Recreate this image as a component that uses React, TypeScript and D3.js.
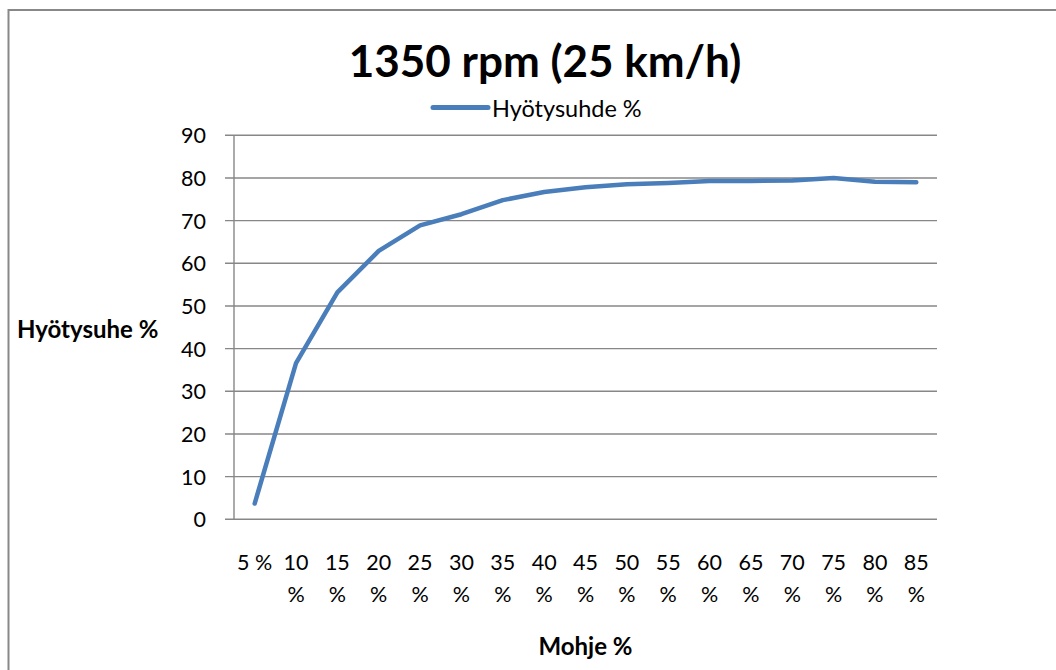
import React from "react";
import * as d3 from "d3";

const categories = ["5 %", "10 %", "15 %", "20 %", "25 %", "30 %", "35 %", "40 %", "45 %", "50 %", "55 %", "60 %", "65 %", "70 %", "75 %", "80 %", "85 %"];
const efficiency = [3.7, 36.6, 53.2, 62.9, 68.9, 71.5, 74.8, 76.7, 77.8, 78.5, 78.8, 79.3, 79.3, 79.4, 80.0, 79.1, 79.0];
const yTicks = [0, 10, 20, 30, 40, 50, 60, 70, 80, 90];

const title = "1350 rpm (25 km/h)";
const seriesName = "Hyötysuhde %";
const yTitle = "Hyötysuhe %";
const xTitle = "Mohje %";

export default function App() {
  const W = 1056, H = 670;
  const left = 234, right = 937, top = 135.3, bottom = 519.3;
  const x = d3.scaleBand<string>().domain(categories).range([left, right]).padding(0);
  const y = d3.scaleLinear().domain([0, 90]).range([bottom, top]);
  const cx = (c: string) => (x(c) as number) + x.bandwidth() / 2;
  const line = d3.line<number>().x((_, i) => cx(categories[i])).y((v) => y(v));
  const font = "Lato, 'Open Sans', sans-serif";
  const grid = "#878787";

  return (
    <svg width={W} height={H} style={{ position: "absolute", left: 0, top: 0, background: "#fff" }} fontFamily={font}>
      <rect x={0} y={0} width={W} height={H} fill="#fff" />
      <rect x={8.5} y={10} width={W + 10} height={H + 10} fill="none" stroke="#888" strokeWidth={2} />
      <text x={545} y={77} textAnchor="middle" fontSize={44} fontWeight="bold" fill="#000">{title}</text>
      <line x1={433} x2={488} y1={107.5} y2={107.5} stroke="#4a7ebb" strokeWidth={5} strokeLinecap="round" />
      <text x={492} y={107.5} dominantBaseline="central" fontSize={23.5} fill="#000">{seriesName}</text>
      {yTicks.map((t) => (
        <g key={t}>
          <line x1={225} x2={right} y1={y(t)} y2={y(t)} stroke={grid} strokeWidth={1.4} />
          <text x={206} y={y(t)} textAnchor="end" dominantBaseline="central" fontSize={21.5} fill="#000">{t}</text>
        </g>
      ))}
      <line x1={left} x2={left} y1={top} y2={bottom} stroke={grid} strokeWidth={1.4} />
      {categories.map((c, i) => {
        const [num, pct] = c.split(" ");
        return i === 0 ? (
          <text key={c} x={cx(c)} y={562} textAnchor="middle" dominantBaseline="central" fontSize={21.5} fill="#000">{c}</text>
        ) : (
          <g key={c}>
            <text x={cx(c)} y={562} textAnchor="middle" dominantBaseline="central" fontSize={21.5} fill="#000">{num}</text>
            <text x={cx(c)} y={594} textAnchor="middle" dominantBaseline="central" fontSize={21.5} fill="#000">{pct}</text>
          </g>
        );
      })}
      <path d={line(efficiency) || ""} fill="none" stroke="#4a7ebb" strokeWidth={4.5} strokeLinecap="round" strokeLinejoin="round" />
      <text x={17} y={328} dominantBaseline="central" fontSize={24} fontWeight="bold" fill="#000">{yTitle}</text>
      <text x={(left + right) / 2} y={645} textAnchor="middle" dominantBaseline="central" fontSize={24} fontWeight="bold" fill="#000">{xTitle}</text>
    </svg>
  );
}
